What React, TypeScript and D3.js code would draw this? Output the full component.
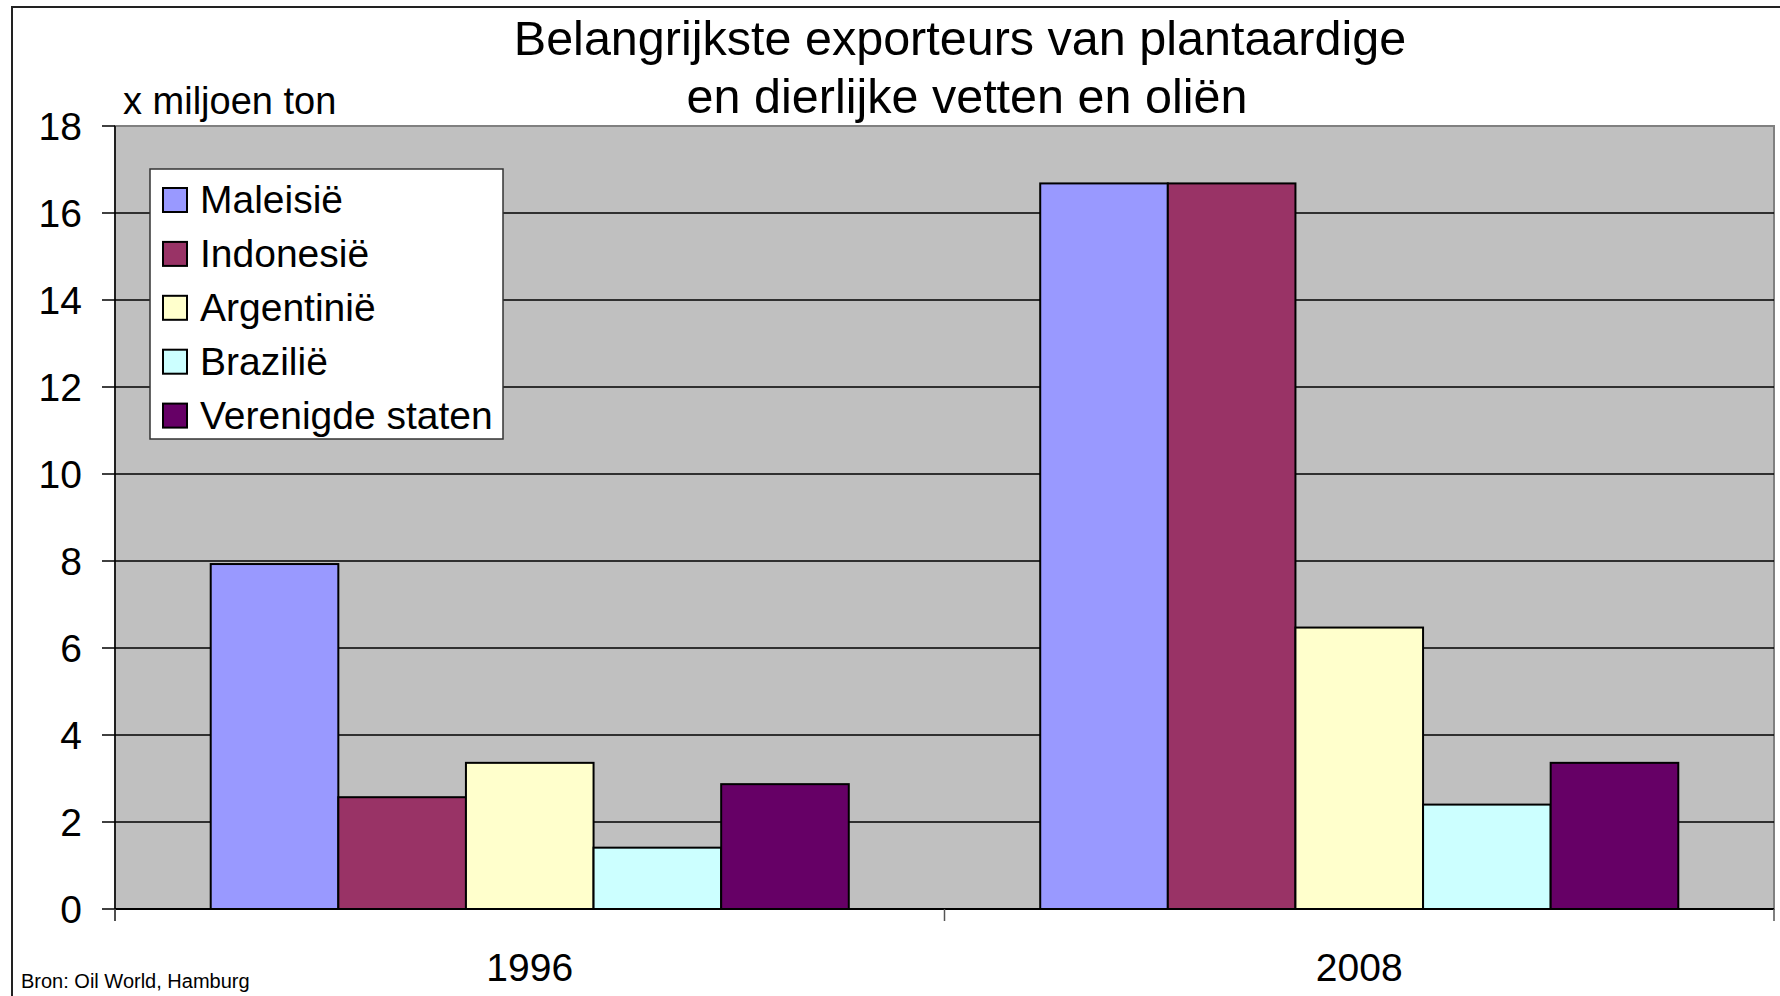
import React from 'react';
import * as d3 from 'd3';

const years = ['1996', '2008'];
const countries = ['Maleisië', 'Indonesië', 'Argentinië', 'Brazilië', 'Verenigde staten'];
const colors = ['#9999FF', '#993366', '#FFFFCC', '#CCFFFF', '#660066'];
const values1996 = [7.93, 2.57, 3.36, 1.41, 2.87];
const values2008 = [16.68, 16.68, 6.47, 2.4, 3.36];
const yTicks = [0, 2, 4, 6, 8, 10, 12, 14, 16, 18];

const titleLines = ['Belangrijkste exporteurs van plantaardige', 'en dierlijke vetten en oliën'];
const yLabel = 'x miljoen ton';
const source = 'Bron: Oil World, Hamburg';

const font = '"Liberation Sans", Arial, sans-serif';

const App = () => {
    const width = 1780;
    const height = 996;
    const plot = { left: 115, right: 1774, top: 126, bottom: 909 };

    const series = [values1996, values2008];

    const x0 = d3.scaleBand().domain(years).range([plot.left, plot.right]).padding(0);
    // Excel-style gap width of 150%
    const bw = x0.bandwidth();
    const barW = bw / (countries.length + 1.5);
    const gap = (bw - barW * countries.length) / 2;
    const x1 = d3
        .scaleBand()
        .domain(countries)
        .range([gap, bw - gap])
        .padding(0);

    const y = d3.scaleLinear().domain([0, 18]).range([plot.bottom, plot.top]);

    const legend = { x: 150, y: 169, w: 353, h: 270, row: 53.9 };

    return (
        <svg
            width={width}
            height={height}
            style={{ position: 'absolute', left: 0, top: 0, background: '#fff' }}
            fontFamily={font}
        >
            {/* chart frame */}
            <rect x={12} y={7} width={width} height={height} fill="#fff" stroke="#222" strokeWidth={2} />

            {/* plot background */}
            <rect
                x={plot.left}
                y={plot.top}
                width={plot.right - plot.left}
                height={plot.bottom - plot.top}
                fill="#C0C0C0"
                stroke="#808080"
                strokeWidth={2}
            />

            {/* gridlines */}
            {yTicks
                .filter(t => t > 0 && t < 18)
                .map(t => (
                    <line key={t} x1={plot.left} x2={plot.right} y1={y(t)} y2={y(t)} stroke="#000" strokeWidth={1.5} />
                ))}

            {/* bars */}
            {years.map((yr, i) => (
                <g key={yr} transform={`translate(${x0(yr)},0)`}>
                    {countries.map((c, j) => (
                        <rect
                            key={c}
                            x={x1(c)}
                            y={y(series[i][j])}
                            width={x1.bandwidth()}
                            height={y(0) - y(series[i][j])}
                            fill={colors[j]}
                            stroke="#000"
                            strokeWidth={2}
                        />
                    ))}
                </g>
            ))}

            {/* axes */}
            <line x1={plot.left} x2={plot.left} y1={plot.top} y2={plot.bottom + 12} stroke="#000" strokeWidth={1.5} />
            <line x1={plot.left} x2={plot.right} y1={plot.bottom} y2={plot.bottom} stroke="#000" strokeWidth={2} />
            {yTicks.map(t => (
                <g key={t}>
                    <line x1={plot.left - 13} x2={plot.left} y1={y(t)} y2={y(t)} stroke="#000" strokeWidth={1.5} />
                    <text x={82} y={y(t)} dy="0.36em" textAnchor="end" fontSize={39}>
                        {t}
                    </text>
                </g>
            ))}
            {[...years.map(yr => (x0(yr) as number) + bw), plot.left].map((xv, i) => (
                <line key={i} x1={xv} x2={xv} y1={plot.bottom} y2={plot.bottom + 12} stroke="#555" strokeWidth={1.5} />
            ))}
            {years.map(yr => (
                <text key={yr} x={(x0(yr) as number) + bw / 2} y={981} textAnchor="middle" fontSize={39}>
                    {yr}
                </text>
            ))}

            {/* titles */}
            <text x={960} y={55} textAnchor="middle" fontSize={48.5}>
                {titleLines[0]}
            </text>
            <text x={967} y={113} textAnchor="middle" fontSize={48.5}>
                {titleLines[1]}
            </text>
            <text x={123} y={114} fontSize={38}>
                {yLabel}
            </text>
            <text x={21} y={988} fontSize={20}>
                {source}
            </text>

            {/* legend */}
            <rect x={legend.x} y={legend.y} width={legend.w} height={legend.h} fill="#fff" stroke="#333" strokeWidth={1.5} />
            {countries.map((c, j) => {
                const cy = 200 + j * legend.row;
                return (
                    <g key={c}>
                        <rect x={163} y={cy - 12} width={24} height={24} fill={colors[j]} stroke="#000" strokeWidth={2} />
                        <text x={200} y={cy + 13} fontSize={39}>
                            {c}
                        </text>
                    </g>
                );
            })}
        </svg>
    );
};

export default App;
